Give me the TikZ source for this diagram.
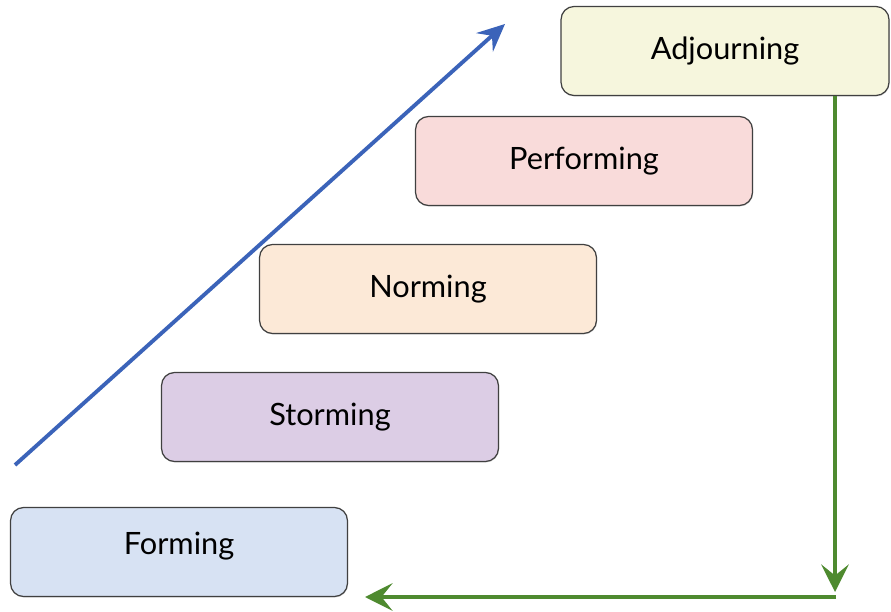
\documentclass[tikz,border=0pt]{standalone}
\usepackage{fontspec}
\setmainfont{Lato}
\usepackage{xcolor}
\usetikzlibrary{positioning}
\usetikzlibrary{%
  arrows.meta,%
  calc,%
  shadows%
}
\definecolor{formfill}{HTML}{D7E2F3}
\definecolor{stormfill}{HTML}{DCCDE5}
\definecolor{normfill}{HTML}{FCE9D7}
\definecolor{perffill}{HTML}{F9DBDA}
\definecolor{adjfill}{HTML}{F6F6DD}
\definecolor{risecol}{HTML}{3B63B9}
\definecolor{backcol}{HTML}{4E8A2F}
\tikzset{
  stage/.style={draw=black!75, line width=0.7pt, rounded corners=0.26cm,
    minimum width=6.74cm, minimum height=1.78cm,
    font=\fontsize{17.5}{21}\selectfont, drop shadow={shadow xshift=0.3pt, shadow yshift=-0.6pt, opacity=0.25}},
  rise/.style={draw=risecol, line width=2.2pt, -{Stealth[length=0.55cm, width=0.5cm, inset=0.2cm]}},
  back/.style={draw=backcol, line width=2.2pt, -{Stealth[length=0.55cm, width=0.55cm, inset=0.22cm]}}
}
\begin{document}
\begin{tikzpicture}[x=0.02cm, y=-0.02cm]
\useasboundingbox (0,0) rectangle (891,611);

\node[stage, fill=formfill, text depth=10pt]  (form)  at (179,552) {Forming};
\node[stage, fill=stormfill] (storm) at (330,417) {Storming};
\node[stage, fill=normfill]  (norm)  at (428,289) {Norming};
\node[stage, fill=perffill]  (perf)  at (584,161) {Performing};
\node[stage, fill=adjfill, minimum width=6.56cm] (adj) at (725,51) {Adjourning};

% climbing through the stages
\coordinate (risestart) at (15,465);
\coordinate (riseend) at (505,24);
\draw[rise] (risestart) -- (riseend);

% back down and round to the start
\coordinate (downend) at (835,592);
\coordinate (backstart) at (836,597);
\coordinate (backend) at (365,597);
\draw[back] (adj.south -| downend) -- (downend);
\draw[back] (backstart) -- (backend);
\end{tikzpicture}
\end{document}
